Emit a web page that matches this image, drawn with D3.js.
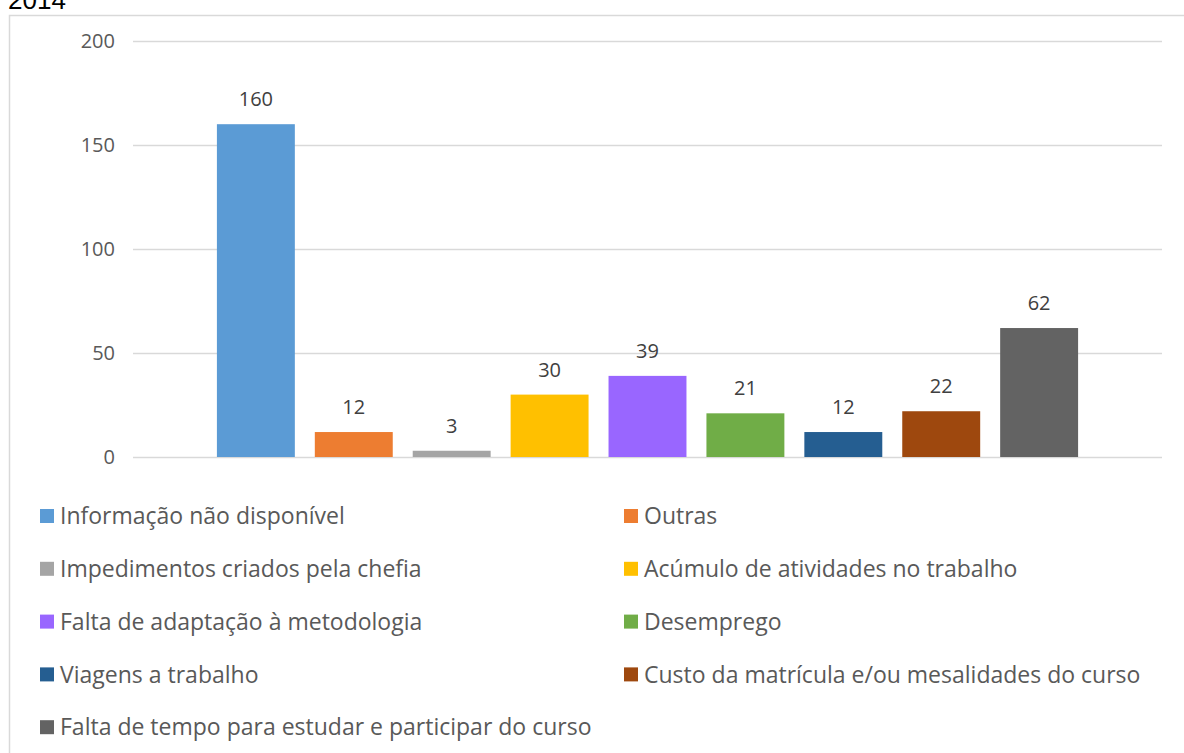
<!DOCTYPE html>
<html>
<head>
<meta charset="utf-8">
<script src="https://cdn.jsdelivr.net/npm/d3@7"></script>
<style>
  body { margin: 0; background: #fff; }
  svg { display: block; }
</style>
</head>
<body>
<div id="app"></div>
<script>
let categories = [
  'Informação não disponível',
  'Outras',
  'Impedimentos criados pela chefia',
  'Acúmulo de atividades no trabalho',
  'Falta de adaptação à metodologia',
  'Desemprego',
  'Viagens a trabalho',
  'Custo da matrícula e/ou mesalidades do curso',
  'Falta de tempo para estudar e participar do curso'
];
let values = [160, 12, 3, 30, 39, 21, 12, 22, 62];
let colorList = ['#5b9bd5', '#ed7d31', '#a5a5a5', '#ffc000', '#9966ff', '#70ad47', '#255e91', '#9e480e', '#636363'];
let yTicks = [0, 50, 100, 150, 200];

let width = 1184;
let height = 753;
let font = '"Open Sans", sans-serif';

let svg = d3.select('#app').append('svg')
    .attr('width', width)
    .attr('height', height);

// outer frame of the chart area (runs off the page right and bottom)
svg.append('rect')
    .attr('x', 9.5)
    .attr('y', 15.5)
    .attr('width', width + 20)
    .attr('height', height + 20)
    .style('fill', 'none')
    .style('stroke', '#d9d9d9')
    .style('stroke-width', 1.5);

svg.append('text')
    .attr('x', 8)
    .attr('y', 9)
    .style('font-family', 'Liberation Sans, Arial, sans-serif')
    .style('font-size', '26px')
    .style('fill', '#000')
    .text('2014');

let yScale = d3.scaleLinear()
               .domain([0, 200])
               .range([457, 41]);

let xScale = d3.scaleBand()
               .domain(categories)
               .range([133, 1162])
               .paddingInner(0.204)
               .paddingOuter(0.857);

let colors = d3.scaleOrdinal()
               .domain(categories)
               .range(colorList);

// gridlines + tick labels
let yAxis = d3.axisLeft(yScale)
    .tickValues(yTicks)
    .tickSize(-(1162 - 133))
    .tickPadding(18);

let gy = svg.append('g')
    .attr('transform', 'translate(133,0)')
    .call(yAxis);
gy.select('.domain').remove();
gy.selectAll('.tick line')
    .style('stroke', '#d9d9d9')
    .style('stroke-width', 1.3);
gy.selectAll('.tick text')
    .style('font-family', font)
    .style('font-size', '20px')
    .style('fill', '#595959');

svg.append('g')
  .selectAll('rect')
    .data(values)
    .enter()
    .append('rect')
      .style('fill', function(d, i) { return colors(categories[i]); })
      .attr('x', function(d, i) { return xScale(categories[i]); })
      .attr('width', xScale.bandwidth())
      .attr('y', function(d) { return yScale(d); })
      .attr('height', function(d) { return yScale(0) - yScale(d); });

svg.append('g')
  .selectAll('text')
    .data(values)
    .enter()
    .append('text')
      .attr('x', function(d, i) { return xScale(categories[i]) + xScale.bandwidth() / 2; })
      .attr('y', function(d) { return yScale(d) - 18; })
      .attr('text-anchor', 'middle')
      .style('font-family', font)
      .style('font-size', '20px')
      .style('fill', '#404040')
      .text(function(d) { return d; });

// legend, two columns
let legend = svg.append('g')
  .selectAll('g')
    .data(categories)
    .enter()
    .append('g')
      .attr('transform', function(d, i) {
        let col = i % 2;
        let row = Math.floor(i / 2);
        return 'translate(' + (col ? 624 : 40) + ',' + (516 + row * 52.8) + ')';
      });

legend.append('rect')
    .attr('x', 0)
    .attr('y', -7)
    .attr('width', 14)
    .attr('height', 14)
    .style('fill', function(d) { return colors(d); });

legend.append('text')
    .attr('x', 20)
    .attr('y', 0)
    .attr('dy', '0.36em')
    .style('font-family', font)
    .style('font-size', '23px')
    .style('fill', '#595959')
    .text(function(d) { return d; });
</script>
</body>
</html>
